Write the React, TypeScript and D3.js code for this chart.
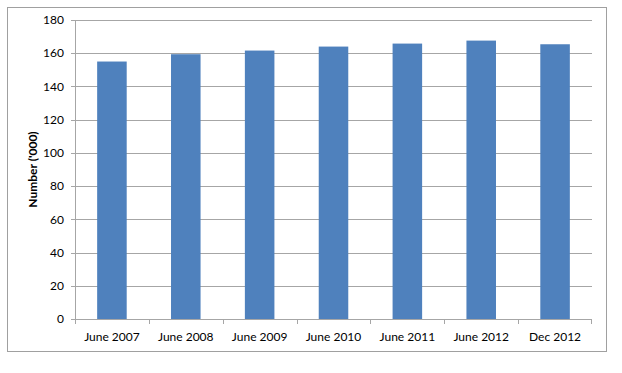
import React from 'react';
import * as d3 from 'd3';

const categories = ['June 2007', 'June 2008', 'June 2009', 'June 2010', 'June 2011', 'June 2012', 'Dec 2012'];
const values = [155, 159.4, 161.6, 164, 165.8, 167.6, 165.4];
const yTicks = [0, 20, 40, 60, 80, 100, 120, 140, 160, 180];

const font = 'Lato, "Open Sans", sans-serif';

export default function App() {
  const W = 622, H = 373;
  const left = 75, right = 592, top = 20, bottom = 319;

  // D3 mathy bits
  const x = d3.scaleBand<string>().domain(categories).range([left, right]).paddingInner(0.6).paddingOuter(0.3);
  const band = d3.scaleBand<string>().domain(categories).range([left, right]);
  const y = d3.scaleLinear().domain([0, 180]).range([bottom, top]);

  const gridColor = '#a6a6a6';

  return (
    <svg width={W} height={H} style={{ position: 'absolute', left: 0, top: 0, background: '#fff' }}>
      <rect x={7.5} y={7.5} width={599} height={344} fill="#fff" stroke="#a0a0a0" strokeWidth={1} />

      {yTicks.map((t) => (
        <g key={t}>
          <line x1={left - 4} x2={right} y1={Math.round(y(t)) + 0.5} y2={Math.round(y(t)) + 0.5} stroke={gridColor} strokeWidth={1} />
          <text x={64} y={y(t)} dy="0.35em" textAnchor="end" fontFamily={font} fontSize={12} fill="#000">{t}</text>
        </g>
      ))}

      {categories.map((c, i) => (
        <rect key={c} x={x(c)} y={y(values[i])} width={x.bandwidth()} height={bottom - y(values[i])} fill="#4f81bd" />
      ))}

      <line x1={left + 0.5} x2={left + 0.5} y1={top} y2={bottom} stroke={gridColor} />
      <line x1={left} x2={right} y1={bottom + 0.5} y2={bottom + 0.5} stroke={gridColor} />
      {categories.map((c) => (
        <line key={c} x1={Math.round(band(c)!) + 0.5} x2={Math.round(band(c)!) + 0.5} y1={bottom} y2={bottom + 5} stroke={gridColor} />
      ))}
      <line x1={right - 0.5} x2={right - 0.5} y1={bottom} y2={bottom + 5} stroke={gridColor} />

      {categories.map((c) => (
        <text key={c} x={band(c)! + band.bandwidth() / 2} y={337} dy="0.35em" textAnchor="middle" fontFamily={font} fontSize={12} fill="#000">{c}</text>
      ))}

      <text transform={`translate(33,${(top + bottom) / 2}) rotate(-90)`} textAnchor="middle" dy="0.35em" fontFamily={font} fontSize={12} fontWeight="bold" fill="#000">Number ('000)</text>
    </svg>
  );
}
